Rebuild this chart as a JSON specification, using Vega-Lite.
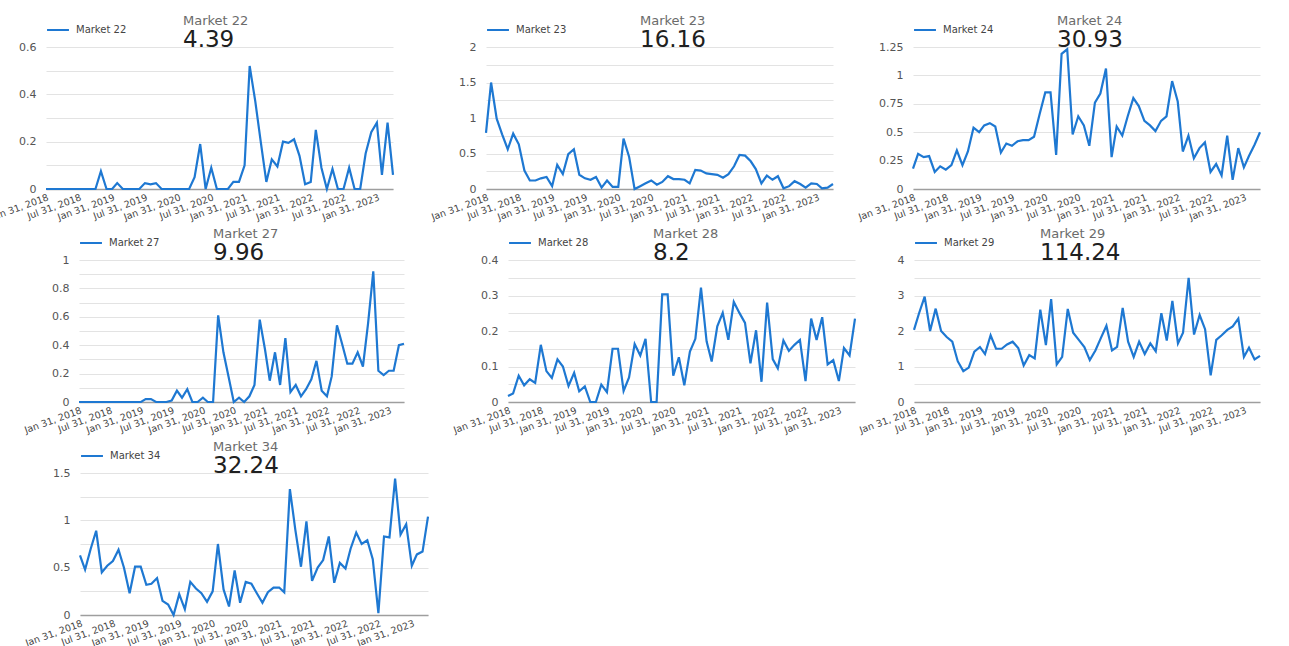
{
  "$schema": "https://vega.github.io/schema/vega-lite/v6.json",
  "background": "white",
  "padding": {"left": -11, "top": 15, "right": 0, "bottom": 0},
  "datasets": {
    "t": [
      {"d":"2018-01-31","m22":0,"m23":0.79,"m24":0.18,"m27":0,"m28":0.017,"m29":2.03,"m34":0.63},
      {"d":"2018-02-28","m22":0,"m23":1.5,"m24":0.31,"m27":0,"m28":0.024,"m29":2.5,"m34":0.48},
      {"d":"2018-03-31","m22":0,"m23":0.99,"m24":0.28,"m27":0,"m28":0.074,"m29":2.97,"m34":0.7},
      {"d":"2018-04-30","m22":0,"m23":0.77,"m24":0.29,"m27":0,"m28":0.047,"m29":2.0,"m34":0.89},
      {"d":"2018-05-31","m22":0,"m23":0.56,"m24":0.15,"m27":0,"m28":0.064,"m29":2.63,"m34":0.45},
      {"d":"2018-06-30","m22":0,"m23":0.78,"m24":0.2,"m27":0,"m28":0.054,"m29":2.0,"m34":0.52},
      {"d":"2018-07-31","m22":0,"m23":0.63,"m24":0.17,"m27":0,"m28":0.161,"m29":1.83,"m34":0.57},
      {"d":"2018-08-31","m22":0,"m23":0.26,"m24":0.21,"m27":0,"m28":0.087,"m29":1.7,"m34":0.69},
      {"d":"2018-09-30","m22":0,"m23":0.12,"m24":0.34,"m27":0,"m28":0.068,"m29":1.15,"m34":0.5},
      {"d":"2018-10-31","m22":0,"m23":0.12,"m24":0.21,"m27":0,"m28":0.12,"m29":0.87,"m34":0.23},
      {"d":"2018-11-30","m22":0.075,"m23":0.15,"m24":0.33,"m27":0,"m28":0.1,"m29":0.97,"m34":0.51},
      {"d":"2018-12-31","m22":0,"m23":0.17,"m24":0.54,"m27":0,"m28":0.045,"m29":1.42,"m34":0.51},
      {"d":"2019-01-31","m22":0,"m23":0.04,"m24":0.5,"m27":0,"m28":0.082,"m29":1.55,"m34":0.32},
      {"d":"2019-02-28","m22":0.025,"m23":0.34,"m24":0.56,"m27":0.02,"m28":0.03,"m29":1.35,"m34":0.33},
      {"d":"2019-03-31","m22":0,"m23":0.21,"m24":0.58,"m27":0.02,"m28":0.044,"m29":1.88,"m34":0.39},
      {"d":"2019-04-30","m22":0,"m23":0.49,"m24":0.55,"m27":0,"m28":0,"m29":1.5,"m34":0.15},
      {"d":"2019-05-31","m22":0,"m23":0.56,"m24":0.32,"m27":0,"m28":0,"m29":1.5,"m34":0.11},
      {"d":"2019-06-30","m22":0,"m23":0.2,"m24":0.4,"m27":0,"m28":0.049,"m29":1.62,"m34":0},
      {"d":"2019-07-31","m22":0.025,"m23":0.15,"m24":0.38,"m27":0.01,"m28":0.028,"m29":1.7,"m34":0.22},
      {"d":"2019-08-31","m22":0.02,"m23":0.13,"m24":0.42,"m27":0.08,"m28":0.15,"m29":1.52,"m34":0.06},
      {"d":"2019-09-30","m22":0.025,"m23":0.17,"m24":0.43,"m27":0.03,"m28":0.15,"m29":1.03,"m34":0.35},
      {"d":"2019-10-31","m22":0,"m23":0.02,"m24":0.43,"m27":0.09,"m28":0.031,"m29":1.32,"m34":0.28},
      {"d":"2019-11-30","m22":0,"m23":0.12,"m24":0.46,"m27":0,"m28":0.069,"m29":1.23,"m34":0.23},
      {"d":"2019-12-31","m22":0,"m23":0.03,"m24":0.66,"m27":0,"m28":0.163,"m29":2.6,"m34":0.14},
      {"d":"2020-01-31","m22":0,"m23":0.03,"m24":0.85,"m27":0.03,"m28":0.131,"m29":1.6,"m34":0.25},
      {"d":"2020-02-29","m22":0,"m23":0.71,"m24":0.85,"m27":0,"m28":0.178,"m29":2.9,"m34":0.75},
      {"d":"2020-03-31","m22":0,"m23":0.45,"m24":0.3,"m27":0,"m28":0,"m29":1.06,"m34":0.27},
      {"d":"2020-04-30","m22":0.05,"m23":0,"m24":1.19,"m27":0.61,"m28":0,"m29":1.27,"m34":0.09},
      {"d":"2020-05-31","m22":0.19,"m23":0.04,"m24":1.23,"m27":0.35,"m28":0.303,"m29":2.62,"m34":0.47},
      {"d":"2020-06-30","m22":0,"m23":0.08,"m24":0.48,"m27":0.18,"m28":0.303,"m29":1.95,"m34":0.13},
      {"d":"2020-07-31","m22":0.09,"m23":0.12,"m24":0.64,"m27":0,"m28":0.074,"m29":1.75,"m34":0.35},
      {"d":"2020-08-31","m22":0,"m23":0.06,"m24":0.56,"m27":0.03,"m28":0.126,"m29":1.55,"m34":0.33},
      {"d":"2020-09-30","m22":0,"m23":0.1,"m24":0.38,"m27":0,"m28":0.047,"m29":1.18,"m34":0.23},
      {"d":"2020-10-31","m22":0,"m23":0.18,"m24":0.76,"m27":0.04,"m28":0.142,"m29":1.45,"m34":0.13},
      {"d":"2020-11-30","m22":0.03,"m23":0.14,"m24":0.84,"m27":0.12,"m28":0.178,"m29":1.8,"m34":0.24},
      {"d":"2020-12-31","m22":0.03,"m23":0.14,"m24":1.06,"m27":0.58,"m28":0.322,"m29":2.15,"m34":0.29},
      {"d":"2021-01-31","m22":0.1,"m23":0.13,"m24":0.28,"m27":0.37,"m28":0.171,"m29":1.45,"m34":0.29},
      {"d":"2021-02-28","m22":0.52,"m23":0.08,"m24":0.55,"m27":0.15,"m28":0.114,"m29":1.55,"m34":0.24},
      {"d":"2021-03-31","m22":0.37,"m23":0.27,"m24":0.47,"m27":0.35,"m28":0.213,"m29":2.65,"m34":1.33},
      {"d":"2021-04-30","m22":0.2,"m23":0.26,"m24":0.64,"m27":0.12,"m28":0.251,"m29":1.7,"m34":0.9},
      {"d":"2021-05-31","m22":0.03,"m23":0.22,"m24":0.8,"m27":0.45,"m28":0.175,"m29":1.27,"m34":0.51},
      {"d":"2021-06-30","m22":0.125,"m23":0.21,"m24":0.73,"m27":0.07,"m28":0.282,"m29":1.7,"m34":0.99},
      {"d":"2021-07-31","m22":0.095,"m23":0.2,"m24":0.6,"m27":0.12,"m28":0.251,"m29":1.35,"m34":0.36},
      {"d":"2021-08-31","m22":0.2,"m23":0.16,"m24":0.56,"m27":0.04,"m28":0.223,"m29":1.65,"m34":0.5},
      {"d":"2021-09-30","m22":0.195,"m23":0.21,"m24":0.51,"m27":0.09,"m28":0.109,"m29":1.43,"m34":0.58},
      {"d":"2021-10-31","m22":0.21,"m23":0.32,"m24":0.6,"m27":0.16,"m28":0.202,"m29":2.5,"m34":0.83},
      {"d":"2021-11-30","m22":0.14,"m23":0.48,"m24":0.64,"m27":0.29,"m28":0.057,"m29":1.73,"m34":0.34},
      {"d":"2021-12-31","m22":0.02,"m23":0.47,"m24":0.95,"m27":0.08,"m28":0.28,"m29":2.85,"m34":0.55},
      {"d":"2022-01-31","m22":0.03,"m23":0.39,"m24":0.77,"m27":0.04,"m28":0.121,"m29":1.65,"m34":0.49},
      {"d":"2022-02-28","m22":0.25,"m23":0.28,"m24":0.33,"m27":0.18,"m28":0.095,"m29":1.95,"m34":0.7},
      {"d":"2022-03-31","m22":0.09,"m23":0.08,"m24":0.47,"m27":0.54,"m28":0.173,"m29":3.5,"m34":0.87},
      {"d":"2022-04-30","m22":0,"m23":0.19,"m24":0.27,"m27":0.41,"m28":0.144,"m29":1.9,"m34":0.75},
      {"d":"2022-05-31","m22":0.085,"m23":0.13,"m24":0.36,"m27":0.27,"m28":0.161,"m29":2.45,"m34":0.79},
      {"d":"2022-06-30","m22":0,"m23":0.18,"m24":0.41,"m27":0.27,"m28":0.175,"m29":2.05,"m34":0.59},
      {"d":"2022-07-31","m22":0,"m23":0.01,"m24":0.15,"m27":0.35,"m28":0.059,"m29":0.75,"m34":0.02},
      {"d":"2022-08-31","m22":0.09,"m23":0.04,"m24":0.22,"m27":0.25,"m28":0.235,"m29":1.75,"m34":0.83},
      {"d":"2022-09-30","m22":0,"m23":0.11,"m24":0.12,"m27":0.55,"m28":0.175,"m29":1.88,"m34":0.82},
      {"d":"2022-10-31","m22":0,"m23":0.07,"m24":0.47,"m27":0.92,"m28":0.239,"m29":2.03,"m34":1.44},
      {"d":"2022-11-30","m22":0.15,"m23":0.02,"m24":0.08,"m27":0.22,"m28":0.106,"m29":2.13,"m34":0.85},
      {"d":"2022-12-31","m22":0.24,"m23":0.08,"m24":0.36,"m27":0.19,"m28":0.118,"m29":2.35,"m34":0.96},
      {"d":"2023-01-31","m22":0.28,"m23":0.07,"m24":0.19,"m27":0.22,"m28":0.059,"m29":1.27,"m34":0.52},
      {"d":"2023-02-28","m22":0.06,"m23":0.01,"m24":0.29,"m27":0.22,"m28":0.152,"m29":1.53,"m34":0.64},
      {"d":"2023-03-31","m22":0.28,"m23":0.02,"m24":0.39,"m27":0.4,"m28":0.131,"m29":1.2,"m34":0.67},
      {"d":"2023-04-30","m22":0.06,"m23":0.07,"m24":0.5,"m27":0.41,"m28":0.235,"m29":1.3,"m34":1.04}
    ]
  },
  "spacing": 6,
  "resolve": {"scale": {"color": "independent"}, "legend": {"color": "independent"}},
  "vconcat": [
    {
      "hconcat": [
        {
          "width": 347, "height": 142,
          "title": {"text": "Market 22", "subtitle": "4.39", "dx": 137},
          "data": {"name": "t"},
          "mark": {"type": "line", "strokeWidth": 2.2},
          "encoding": {
            "x": {"field": "d", "type": "temporal", "scale": {"type": "utc", "nice": false}, "axis": {"title": null, "format": "%b %d, %Y", "values": [{"year":2018,"month":1,"date":31,"utc":true},{"year":2018,"month":7,"date":31,"utc":true},{"year":2019,"month":1,"date":31,"utc":true},{"year":2019,"month":7,"date":31,"utc":true},{"year":2020,"month":1,"date":31,"utc":true},{"year":2020,"month":7,"date":31,"utc":true},{"year":2021,"month":1,"date":31,"utc":true},{"year":2021,"month":7,"date":31,"utc":true},{"year":2022,"month":1,"date":31,"utc":true},{"year":2022,"month":7,"date":31,"utc":true},{"year":2023,"month":1,"date":31,"utc":true}]}},
            "y": {"field": "m22", "type": "quantitative", "scale": {"domain": [0, 0.6], "nice": false}, "axis": {"title": null, "format": ".3~g", "values": [0,0.1,0.2,0.3,0.4,0.5,0.6], "labelExpr": "round(datum.value*10)%2==0 ? datum.label : ''"}},
            "color": {"datum": "Market 22", "type": "nominal", "scale": {"range": ["#1e78d2"]}, "legend": {"orient": "none", "legendX": 0, "legendY": -29, "title": null}}
          }
        },
        {"width": 93, "height": 142, "data": {"values": [{}]}, "mark": {"type": "text", "text": ""}, "encoding": {}},
        {
          "width": 347, "height": 142,
          "title": {"text": "Market 23", "subtitle": "16.16", "dx": 154},
          "data": {"name": "t"},
          "mark": {"type": "line", "strokeWidth": 2.2},
          "encoding": {
            "x": {"field": "d", "type": "temporal", "scale": {"type": "utc", "nice": false}, "axis": {"title": null, "format": "%b %d, %Y", "values": [{"year":2018,"month":1,"date":31,"utc":true},{"year":2018,"month":7,"date":31,"utc":true},{"year":2019,"month":1,"date":31,"utc":true},{"year":2019,"month":7,"date":31,"utc":true},{"year":2020,"month":1,"date":31,"utc":true},{"year":2020,"month":7,"date":31,"utc":true},{"year":2021,"month":1,"date":31,"utc":true},{"year":2021,"month":7,"date":31,"utc":true},{"year":2022,"month":1,"date":31,"utc":true},{"year":2022,"month":7,"date":31,"utc":true},{"year":2023,"month":1,"date":31,"utc":true}]}},
            "y": {"field": "m23", "type": "quantitative", "scale": {"domain": [0, 2], "nice": false}, "axis": {"title": null, "format": ".3~g", "values": [0,0.25,0.5,0.75,1,1.25,1.5,1.75,2], "labelExpr": "round(datum.value*4)%2==0 ? datum.label : ''"}},
            "color": {"datum": "Market 23", "type": "nominal", "scale": {"range": ["#1e78d2"]}, "legend": {"orient": "none", "legendX": 0, "legendY": -29, "title": null}}
          }
        },
        {"width": 80, "height": 142, "data": {"values": [{}]}, "mark": {"type": "text", "text": ""}, "encoding": {}},
        {
          "width": 347, "height": 142,
          "title": {"text": "Market 24", "subtitle": "30.93", "dx": 144},
          "data": {"name": "t"},
          "mark": {"type": "line", "strokeWidth": 2.2},
          "encoding": {
            "x": {"field": "d", "type": "temporal", "scale": {"type": "utc", "nice": false}, "axis": {"title": null, "format": "%b %d, %Y", "values": [{"year":2018,"month":1,"date":31,"utc":true},{"year":2018,"month":7,"date":31,"utc":true},{"year":2019,"month":1,"date":31,"utc":true},{"year":2019,"month":7,"date":31,"utc":true},{"year":2020,"month":1,"date":31,"utc":true},{"year":2020,"month":7,"date":31,"utc":true},{"year":2021,"month":1,"date":31,"utc":true},{"year":2021,"month":7,"date":31,"utc":true},{"year":2022,"month":1,"date":31,"utc":true},{"year":2022,"month":7,"date":31,"utc":true},{"year":2023,"month":1,"date":31,"utc":true}]}},
            "y": {"field": "m24", "type": "quantitative", "scale": {"domain": [0, 1.25], "nice": false}, "axis": {"title": null, "format": ".3~g", "values": [0,0.25,0.5,0.75,1,1.25]}},
            "color": {"datum": "Market 24", "type": "nominal", "scale": {"range": ["#1e78d2"]}, "legend": {"orient": "none", "legendX": 0, "legendY": -29, "title": null}}
          }
        }
      ],
      "spacing": 0,
      "bounds": "flush",
      "resolve": {"scale": {"color": "independent"}, "legend": {"color": "independent"}}
    },
    {
      "hconcat": [
        {"width": 33, "height": 142, "data": {"values": [{}]}, "mark": {"type": "text", "text": ""}, "encoding": {}},
        {
          "width": 325, "height": 142,
          "title": {"text": "Market 27", "subtitle": "9.96", "dx": 134},
          "data": {"name": "t"},
          "mark": {"type": "line", "strokeWidth": 2.2},
          "encoding": {
            "x": {"field": "d", "type": "temporal", "scale": {"type": "utc", "nice": false}, "axis": {"title": null, "format": "%b %d, %Y", "values": [{"year":2018,"month":1,"date":31,"utc":true},{"year":2018,"month":7,"date":31,"utc":true},{"year":2019,"month":1,"date":31,"utc":true},{"year":2019,"month":7,"date":31,"utc":true},{"year":2020,"month":1,"date":31,"utc":true},{"year":2020,"month":7,"date":31,"utc":true},{"year":2021,"month":1,"date":31,"utc":true},{"year":2021,"month":7,"date":31,"utc":true},{"year":2022,"month":1,"date":31,"utc":true},{"year":2022,"month":7,"date":31,"utc":true},{"year":2023,"month":1,"date":31,"utc":true}]}},
            "y": {"field": "m27", "type": "quantitative", "scale": {"domain": [0, 1], "nice": false}, "axis": {"title": null, "format": ".3~g", "values": [0,0.1,0.2,0.3,0.4,0.5,0.6,0.7,0.8,0.9,1], "labelExpr": "round(datum.value*10)%2==0 ? datum.label : ''"}},
            "color": {"datum": "Market 27", "type": "nominal", "scale": {"range": ["#1e78d2"]}, "legend": {"orient": "none", "legendX": 0, "legendY": -29, "title": null}}
          }
        },
        {"width": 104, "height": 142, "data": {"values": [{}]}, "mark": {"type": "text", "text": ""}, "encoding": {}},
        {
          "width": 347, "height": 142,
          "title": {"text": "Market 28", "subtitle": "8.2", "dx": 145},
          "data": {"name": "t"},
          "mark": {"type": "line", "strokeWidth": 2.2},
          "encoding": {
            "x": {"field": "d", "type": "temporal", "scale": {"type": "utc", "nice": false}, "axis": {"title": null, "format": "%b %d, %Y", "values": [{"year":2018,"month":1,"date":31,"utc":true},{"year":2018,"month":7,"date":31,"utc":true},{"year":2019,"month":1,"date":31,"utc":true},{"year":2019,"month":7,"date":31,"utc":true},{"year":2020,"month":1,"date":31,"utc":true},{"year":2020,"month":7,"date":31,"utc":true},{"year":2021,"month":1,"date":31,"utc":true},{"year":2021,"month":7,"date":31,"utc":true},{"year":2022,"month":1,"date":31,"utc":true},{"year":2022,"month":7,"date":31,"utc":true},{"year":2023,"month":1,"date":31,"utc":true}]}},
            "y": {"field": "m28", "type": "quantitative", "scale": {"domain": [0, 0.4], "nice": false}, "axis": {"title": null, "format": ".3~g", "values": [0,0.05,0.1,0.15,0.2,0.25,0.3,0.35,0.4], "labelExpr": "round(datum.value*20)%2==0 ? datum.label : ''"}},
            "color": {"datum": "Market 28", "type": "nominal", "scale": {"range": ["#1e78d2"]}, "legend": {"orient": "none", "legendX": 0, "legendY": -29, "title": null}}
          }
        },
        {"width": 59, "height": 142, "data": {"values": [{}]}, "mark": {"type": "text", "text": ""}, "encoding": {}},
        {
          "width": 346, "height": 142,
          "title": {"text": "Market 29", "subtitle": "114.24", "dx": 126},
          "data": {"name": "t"},
          "mark": {"type": "line", "strokeWidth": 2.2},
          "encoding": {
            "x": {"field": "d", "type": "temporal", "scale": {"type": "utc", "nice": false}, "axis": {"title": null, "format": "%b %d, %Y", "values": [{"year":2018,"month":1,"date":31,"utc":true},{"year":2018,"month":7,"date":31,"utc":true},{"year":2019,"month":1,"date":31,"utc":true},{"year":2019,"month":7,"date":31,"utc":true},{"year":2020,"month":1,"date":31,"utc":true},{"year":2020,"month":7,"date":31,"utc":true},{"year":2021,"month":1,"date":31,"utc":true},{"year":2021,"month":7,"date":31,"utc":true},{"year":2022,"month":1,"date":31,"utc":true},{"year":2022,"month":7,"date":31,"utc":true},{"year":2023,"month":1,"date":31,"utc":true}]}},
            "y": {"field": "m29", "type": "quantitative", "scale": {"domain": [0, 4], "nice": false}, "axis": {"title": null, "format": ".3~g", "values": [0,0.5,1,1.5,2,2.5,3,3.5,4], "labelExpr": "round(datum.value*2)%2==0 ? datum.label : ''"}},
            "color": {"datum": "Market 29", "type": "nominal", "scale": {"range": ["#1e78d2"]}, "legend": {"orient": "none", "legendX": 0, "legendY": -29, "title": null}}
          }
        }
      ],
      "spacing": 0,
      "bounds": "flush",
      "resolve": {"scale": {"color": "independent"}, "legend": {"color": "independent"}}
    },
    {
      "hconcat": [
        {"width": 34, "height": 142, "data": {"values": [{}]}, "mark": {"type": "text", "text": ""}, "encoding": {}},
        {
          "width": 348, "height": 142,
          "title": {"text": "Market 34", "subtitle": "32.24", "dx": 133},
          "data": {"name": "t"},
          "mark": {"type": "line", "strokeWidth": 2.2},
          "encoding": {
            "x": {"field": "d", "type": "temporal", "scale": {"type": "utc", "nice": false}, "axis": {"title": null, "format": "%b %d, %Y", "values": [{"year":2018,"month":1,"date":31,"utc":true},{"year":2018,"month":7,"date":31,"utc":true},{"year":2019,"month":1,"date":31,"utc":true},{"year":2019,"month":7,"date":31,"utc":true},{"year":2020,"month":1,"date":31,"utc":true},{"year":2020,"month":7,"date":31,"utc":true},{"year":2021,"month":1,"date":31,"utc":true},{"year":2021,"month":7,"date":31,"utc":true},{"year":2022,"month":1,"date":31,"utc":true},{"year":2022,"month":7,"date":31,"utc":true},{"year":2023,"month":1,"date":31,"utc":true}]}},
            "y": {"field": "m34", "type": "quantitative", "scale": {"domain": [0, 1.5], "nice": false}, "axis": {"title": null, "format": ".3~g", "values": [0,0.25,0.5,0.75,1,1.25,1.5], "labelExpr": "round(datum.value*4)%2==0 ? datum.label : ''"}},
            "color": {"datum": "Market 34", "type": "nominal", "scale": {"range": ["#1e78d2"]}, "legend": {"orient": "none", "legendX": 0, "legendY": -29, "title": null}}
          }
        }
      ],
      "spacing": 0,
      "bounds": "flush",
      "resolve": {"scale": {"color": "independent"}, "legend": {"color": "independent"}}
    }
  ],
  "config": {
    "font": "DejaVu Sans",
    "view": {"stroke": null},
    "title": {"fontSize": 13, "color": "#6b6b6b", "fontWeight": "normal", "subtitleFontSize": 23, "subtitleColor": "#202020", "subtitleFont": "DejaVu Sans", "subtitlePadding": 1, "anchor": "start", "frame": "group", "offset": -34},
    "axisX": {"labelAngle": -20, "labelAlign": "right", "labelBaseline": "top", "grid": false, "ticks": false, "domainColor": "#9e9e9e", "domainWidth": 1.5, "labelFontSize": 9.5, "labelColor": "#444444", "labelPadding": 3, "labelOverlap": false},
    "axisY": {"domain": false, "ticks": false, "gridColor": "#e3e3e3", "labelPadding": 10, "labelFontSize": 11, "labelColor": "#555555"},
    "legend": {"symbolType": "stroke", "symbolSize": 480, "symbolStrokeWidth": 2, "labelFontSize": 10, "labelColor": "#444444", "labelOffset": 6}
  }
}
